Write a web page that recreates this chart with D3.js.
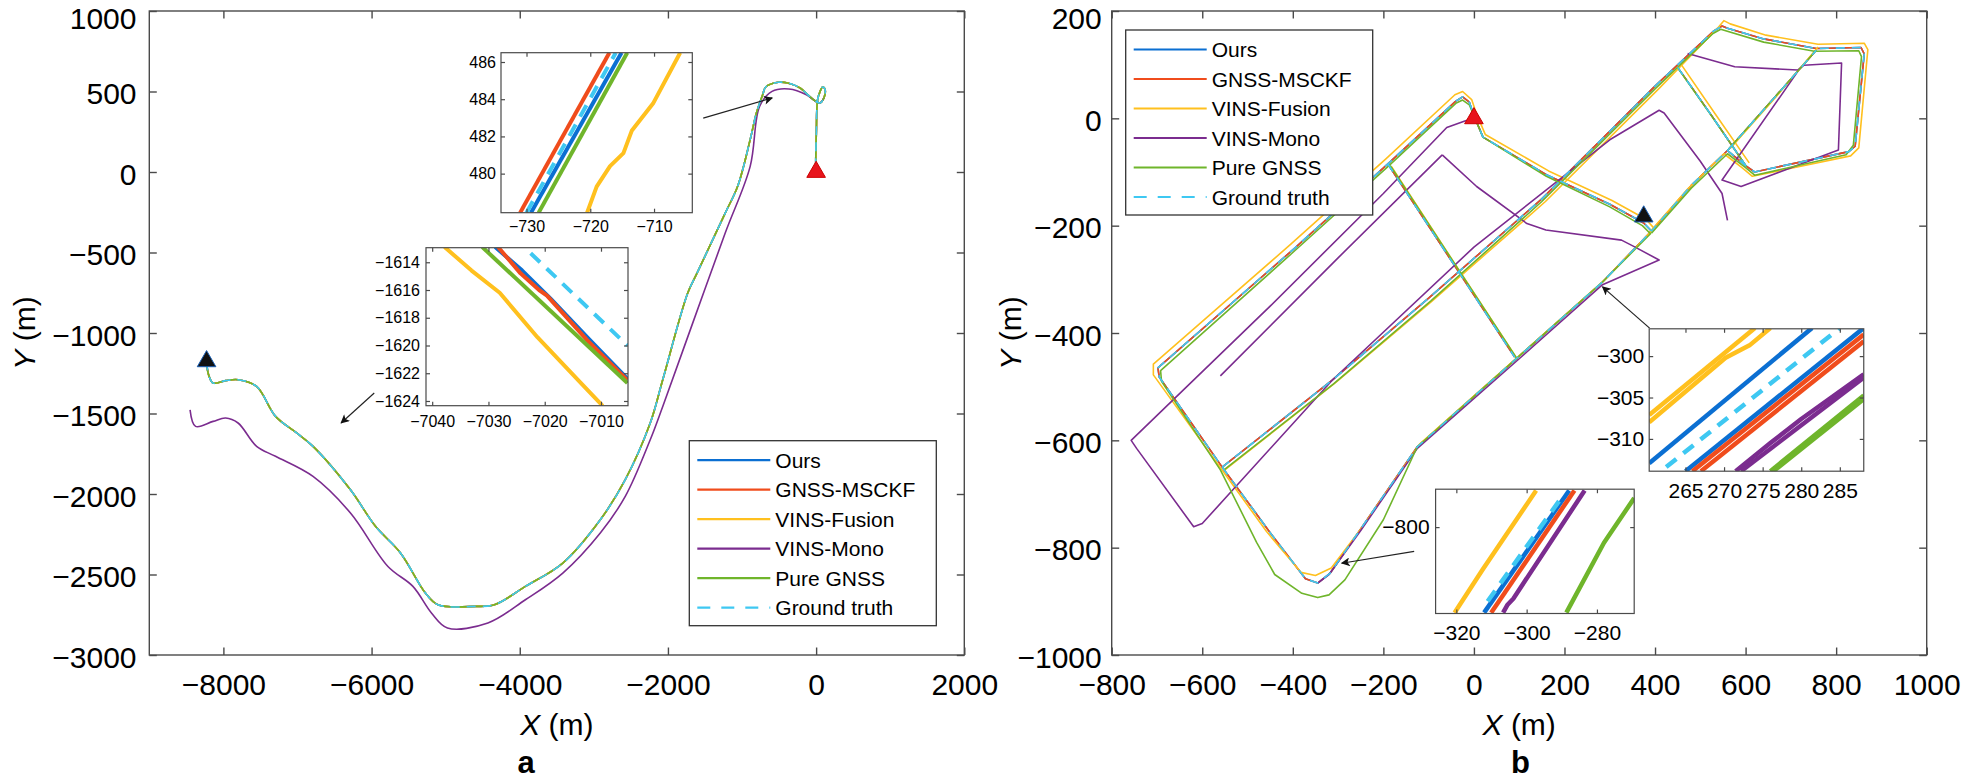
<!DOCTYPE html>
<html>
<head>
<meta charset="utf-8">
<script src="https://cdn.jsdelivr.net/npm/d3@7"></script>
<style>
body { margin: 0; background: #fff; }
svg { display: block; font-family: Arial, "Liberation Sans", Helvetica, sans-serif; }
</style>
</head>
<body>
<svg id="fig" width="1965" height="780"></svg>
<script>
// ---------------- series ----------------
const NAMES = ["Ours", "GNSS-MSCKF", "VINS-Fusion", "VINS-Mono", "Pure GNSS", "Ground truth"];
const COLORS = ["#0b6fd2", "#f04c1c", "#ffc01e", "#7b2c8f", "#6fb52b", "#3ec8f2"];

// ---------------- panel a (main) ----------------
const A_X_DOMAIN = [-9000, 2000];
const A_Y_DOMAIN = [-3000, 1000];
const A_X_TICKS = [-8000, -6000, -4000, -2000, 0, 2000];
const A_Y_TICKS = [1000, 500, 0, -500, -1000, -1500, -2000, -2500, -3000];
// Ours, GNSS-MSCKF, VINS-Fusion, Pure GNSS and Ground truth overlap at this scale
const A_TRACK = [
  [-8227, -1176], [-8200, -1259], [-8139, -1311], [-7970, -1296], [-7802, -1290],
  [-7552, -1332], [-7296, -1518], [-7020, -1618], [-6790, -1704], [-6285, -1974],
  [-5947, -2201], [-5610, -2366], [-5273, -2615], [-5104, -2688], [-4599, -2698],
  [-4343, -2688], [-3924, -2574], [-3419, -2429], [-2913, -2160], [-2576, -1911],
  [-2239, -1559], [-2070, -1290], [-1733, -752], [-1606, -627], [-1227, -255],
  [-1059, -89], [-890, 201], [-806, 366], [-720, 482], [-680, 528], [-512, 557],
  [-384, 553], [-216, 522], [-89, 470], [-5, 439], [54, 429], [105, 460], [121, 511],
  [88, 528], [54, 501], [20, 449], [3, 242], [-5, 56], [0, 0]
];
const A_MONO = [
  [-8450, -1477], [-8375, -1580], [-8139, -1549], [-7970, -1528], [-7802, -1559],
  [-7552, -1704], [-7296, -1766], [-6790, -1891], [-6285, -2118], [-5779, -2450],
  [-5442, -2574], [-5192, -2739], [-4976, -2832], [-4430, -2801], [-3924, -2657],
  [-3419, -2491], [-2913, -2242], [-2576, -2015], [-2239, -1663], [-2070, -1456],
  [-1649, -917], [-1227, -379], [-890, 35], [-763, 407], [-595, 501], [-367, 516],
  [-131, 480], [-5, 439], [54, 429], [105, 460]
];
const A_START = [-8227, -1176];
const A_END = [0, 0];
const A_ARROWS = [
  [[-1524, 335], [-593, 460]],
  [[-5964, -1373], [-6411, -1559]]
];

// inset a1
const A1_X_DOMAIN = [-734, -704];
const A1_Y_DOMAIN = [477.9, 486.5];
const A1_X_TICKS = [-730, -720, -710];
const A1_Y_TICKS = [480, 482, 484, 486];
const A1_LINES = [
  [[[-729.3, 477.9], [-715.1, 486.5]]],
  [[[-731.0, 477.9], [-717.0, 486.5]]],
  [[[-720.5, 477.9], [-719.0, 479.3], [-716.9, 480.4], [-714.8, 481.1], [-713.5, 482.3], [-710.1, 483.8], [-705.9, 486.5]]],
  [],
  [[[-728.1, 477.9], [-714.2, 486.5]]],
  [[[-730.0, 477.9], [-716.0, 486.5]]]
];

// inset a2
const A2_X_DOMAIN = [-7041.1, -7005.2];
const A2_Y_DOMAIN = [-1624.34, -1612.95];
const A2_X_TICKS = [-7040, -7030, -7020, -7010];
const A2_Y_TICKS = [-1614, -1616, -1618, -1620, -1622, -1624];
const A2_LINES = [
  [[[-7028.8, -1612.9], [-7024.0, -1614.6], [-7019.0, -1616.6], [-7012.0, -1619.6], [-7005.3, -1622.4]]],
  [[[-7028.3, -1612.9], [-7024.3, -1614.8], [-7021.0, -1616.0], [-7019.6, -1616.4], [-7012.5, -1619.6], [-7005.3, -1622.5]]],
  [[[-7037.8, -1612.9], [-7033.0, -1614.6], [-7028.0, -1616.2], [-7021.3, -1619.4], [-7013.6, -1622.7], [-7009.7, -1624.35]]],
  [],
  [[[-7031.1, -1612.9], [-7005.3, -1622.7]]],
  [[[-7022.5, -1613.35], [-7005.3, -1620.0]]]
];

// ---------------- panel b (main) ----------------
const B_X_DOMAIN = [-800, 1000];
const B_Y_DOMAIN = [-1000, 200];
const B_X_TICKS = [-800, -600, -400, -200, 0, 200, 400, 600, 800, 1000];
const B_Y_TICKS = [200, 0, -200, -400, -600, -800, -1000];
const B_TRUTH = [
  [[0, 5], [20, -35], [160, -105], [300, -160], [375, -195], [392, -210], [284, -305], [100, -443], [-125, -612], [-250, -765], [-318, -848], [-345, -866], [-372, -858], [-450, -772], [-556, -650], [-695, -482], [-698, -465], [-400, -245], [-190, -85], [-40, 32], [-25, 40], [-10, 30], [0, 5]],
  [[-556, -650], [-313, -488], [-100, -335], [150, -150], [400, 60], [530, 163], [548, 172], [560, 168], [640, 148], [756, 130], [855, 132], [862, 120], [842, -52], [828, -62], [620, -100], [600, -88], [560, -60], [480, -125], [392, -210]],
  [[560, -60], [660, 35], [756, 127]],
  [[-190, -85], [-50, -265], [90, -445]],
  [[450, 95], [525, 5], [600, -88]]
];
const B_FUSION = [
  [[5, 10], [25, -30], [165, -98], [305, -153], [380, -188], [398, -205], [290, -300], [106, -438], [-120, -607], [-245, -760], [-315, -838], [-350, -852], [-382, -846], [-458, -770], [-565, -645], [-708, -478], [-708, -458], [-405, -235], [-195, -76], [-42, 44], [-25, 50], [-5, 35], [5, 10]],
  [[-550, -655], [-305, -492], [-92, -340], [158, -155], [408, 55], [538, 168], [552, 182], [566, 176], [645, 155], [760, 138], [862, 140], [870, 128], [850, -55], [832, -70], [615, -108], [592, -92], [552, -66], [473, -131], [386, -214]],
  [[567, -55], [667, 40], [760, 133]],
  [[-182, -90], [-43, -270], [97, -450]],
  [[458, 100], [533, 8], [608, -83]]
];
const B_GNSS = [
  [[0, 5], [20, -35], [160, -108], [300, -165], [372, -200], [390, -215], [284, -305], [100, -443], [-125, -612], [-200, -748], [-285, -860], [-320, -888], [-345, -893], [-380, -885], [-440, -850], [-480, -790], [-560, -655], [-690, -490], [-692, -470], [-400, -250], [-190, -90], [-40, 28], [-25, 34], [-10, 25], [0, 5]],
  [[-552, -655], [-310, -495], [-95, -340], [150, -155], [400, 55], [528, 158], [545, 166], [640, 142], [752, 125], [850, 126], [856, 115], [838, -50], [822, -68], [620, -106], [600, -92], [560, -66], [480, -130], [392, -214]],
  [[560, -60], [660, 35], [756, 127]],
  [[-185, -88], [-45, -268], [95, -448]],
  [[452, 92], [527, 2], [602, -90]]
];
const B_MONO = [
  [[0, 0], [-20, -5], [-60, -17], [-200, -140], [-450, -350], [-757, -600], [-745, -615], [-619, -761], [-600, -755], [-313, -488], [0, -240], [300, -40], [409, 15], [420, 10], [500, -80], [548, -140], [560, -190]],
  [[-70, -68], [6, -127], [117, -196], [159, -208], [326, -227], [354, -239], [409, -264], [284, -310], [100, -448], [-125, -615], [-250, -768], [-320, -850], [-345, -866]],
  [[472, 121], [576, 96], [715, 90], [729, 99], [812, 103], [805, -59], [590, -127], [548, -115], [715, 87]],
  [[-70, -68], [-300, -260], [-560, -480]]
];
const B_START = [0, 0];
const B_END = [375, -183];
const B_ARROWS = [
  [[388, -391], [284, -314]],
  [[-132, -807], [-292, -829]]
];

// inset b1 (upper right)
const B1_X_DOMAIN = [260.3, 288.1];
const B1_Y_DOMAIN = [-313.9, -296.7];
const B1_X_TICKS = [265, 270, 275, 280, 285];
const B1_Y_TICKS = [-300, -305, -310];
const B1_LINES = [
  [[[260.3, -312.95], [281.4, -296.6]], [[265.0, -313.9], [288.1, -296.6]]],
  [[[265.9, -313.9], [288.1, -297.4]], [[267.0, -313.9], [288.1, -298.2]]],
  [[[260.3, -307.1], [274.0, -296.6]], [[260.3, -308.0], [270.2, -300.2], [273.3, -298.7], [276.0, -296.6]]],
  [[[271.5, -313.9], [276.0, -310.5], [280.0, -307.6], [288.1, -302.2]], [[272.2, -313.9], [288.1, -302.6]]],
  [[[276.0, -313.9], [288.1, -304.75]], [[276.4, -313.9], [288.1, -305.2]]],
  [[[262.5, -313.4], [285.0, -296.6]]]
];

// inset b2 (lower)
const B2_X_DOMAIN = [-325.9, -269.4];
const B2_Y_DOMAIN = [-820.5, -791];
const B2_X_TICKS = [-320, -300, -280];
const B2_Y_TICKS = [-800];
const B2_LINES = [
  [[[-312.1, -820.3], [-287.9, -791.3]]],
  [[[-310.1, -820.3], [-286.4, -791.3]]],
  [[[-320.5, -820.3], [-312.6, -810.2], [-297.3, -791.3]]],
  [[[-306.7, -820.3], [-305.5, -818.5], [-303.8, -817.0], [-283.5, -791.3]]],
  [[[-288.7, -820.3], [-278.0, -803.7], [-269.4, -793.1]]],
  [[[-311.1, -817.6], [-289.4, -792.2]]]
];

// ---------------- drawing ----------------
const svg = d3.select("#fig");
const AXIS_COLOR = "#4a4a4a";

const defs = svg.append("defs");
defs.append("marker")
  .attr("id", "arrowhead")
  .attr("viewBox", "0 0 10 10")
  .attr("refX", 9).attr("refY", 5)
  .attr("markerWidth", 13).attr("markerHeight", 9)
  .attr("markerUnits", "userSpaceOnUse")
  .attr("orient", "auto")
  .append("path")
  .attr("d", "M0,0 L10,5 L0,10 L2.5,5 Z")
  .attr("fill", "#111");

let clipCount = 0;

function makeAxes(g, box, xDomain, yDomain, xTicks, yTicks, opt) {
  const x = d3.scaleLinear().domain(xDomain).range([box.left, box.right]);
  const y = d3.scaleLinear().domain(yDomain).range([box.bottom, box.top]);

  if (opt.white) {
    g.append("rect")
      .attr("x", box.left).attr("y", box.top)
      .attr("width", box.right - box.left).attr("height", box.bottom - box.top)
      .attr("fill", "#fff");
  }

  const id = "clip" + (clipCount++);
  defs.append("clipPath").attr("id", id)
    .append("rect")
    .attr("x", box.left).attr("y", box.top)
    .attr("width", box.right - box.left).attr("height", box.bottom - box.top);

  const plot = g.append("g").attr("clip-path", `url(#${id})`);
  const axes = g.append("g").attr("class", "axes");

  const fmt = d3.format("d");
  const tl = opt.tickLen;

  axes.append("g")
    .attr("transform", `translate(0,${box.bottom})`)
    .call(d3.axisBottom(x).tickValues(xTicks).tickSize(-tl).tickSizeOuter(0)
      .tickPadding(opt.xPad).tickFormat(fmt));
  axes.append("g")
    .attr("transform", `translate(0,${box.top})`)
    .call(d3.axisTop(x).tickValues(xTicks).tickSize(-tl).tickSizeOuter(0).tickFormat(""));
  const yAxis = axes.append("g")
    .attr("transform", `translate(${box.left},0)`)
    .call(d3.axisLeft(y).tickValues(yTicks).tickSize(-tl).tickSizeOuter(0)
      .tickPadding(opt.yPad).tickFormat(fmt));
  axes.append("g")
    .attr("transform", `translate(${box.right},0)`)
    .call(d3.axisRight(y).tickValues(yTicks).tickSize(-tl).tickSizeOuter(0).tickFormat(""));

  axes.selectAll(".domain").remove();
  axes.selectAll(".tick line").attr("stroke", AXIS_COLOR).attr("stroke-width", opt.stroke);
  axes.selectAll(".tick text")
    .attr("fill", "#000")
    .style("font-size", opt.fontSize + "px")
    .style("font-family", "Arial, 'Liberation Sans', sans-serif");
  if (opt.yShift) {
    // labels sit a little below their ticks; the topmost one is pushed further down
    const top = d3.max(yDomain);
    yAxis.selectAll(".tick text")
      .attr("dy", d => (opt.fontSize * 0.32 + opt.yShift + (d === top ? 5 : 0)) + "px");
  }

  axes.append("rect")
    .attr("x", box.left).attr("y", box.top)
    .attr("width", box.right - box.left).attr("height", box.bottom - box.top)
    .attr("fill", "none").attr("stroke", AXIS_COLOR).attr("stroke-width", opt.stroke);

  return { x, y, plot, axes };
}

function drawLines(ax, lines, width, curve) {
  const line = d3.line().x(d => ax.x(d[0])).y(d => ax.y(d[1])).curve(curve || d3.curveLinear);
  lines.forEach((segs, i) => {
    segs.forEach(seg => {
      ax.plot.append("path")
        .attr("d", line(seg))
        .attr("fill", "none")
        .attr("stroke", COLORS[i])
        .attr("stroke-width", width)
        .attr("stroke-linejoin", "round")
        .attr("stroke-dasharray", i === 5 ? (width > 3 ? "13,9" : "9,7") : null);
    });
  });
}

function drawMarker(g, ax, p, fill, edge) {
  g.append("path")
    .attr("d", d3.symbol().type(d3.symbolTriangle).size(150)())
    .attr("transform", `translate(${ax.x(p[0])},${ax.y(p[1])})`)
    .attr("fill", fill)
    .attr("stroke", edge)
    .attr("stroke-width", 1);
}

function drawArrows(g, ax, arrows) {
  arrows.forEach(a => {
    g.append("line")
      .attr("x1", ax.x(a[0][0])).attr("y1", ax.y(a[0][1]))
      .attr("x2", ax.x(a[1][0])).attr("y2", ax.y(a[1][1]))
      .attr("stroke", "#222").attr("stroke-width", 1.2)
      .attr("marker-end", "url(#arrowhead)");
  });
}

function drawLegend(g, x0, y0) {
  const w = 247, h = 185, rowH = 29.5;
  g.append("rect")
    .attr("x", x0).attr("y", y0).attr("width", w).attr("height", h)
    .attr("fill", "#fff").attr("stroke", "#333").attr("stroke-width", 1.3);
  NAMES.forEach((name, i) => {
    const yy = y0 + 19.5 + i * rowH;
    g.append("line")
      .attr("x1", x0 + 8).attr("x2", x0 + 81)
      .attr("y1", yy).attr("y2", yy)
      .attr("stroke", COLORS[i]).attr("stroke-width", 2.2)
      .attr("stroke-dasharray", i === 5 ? "13,11" : null);
    g.append("text")
      .attr("x", x0 + 86).attr("y", yy)
      .attr("dy", "0.36em")
      .style("font-size", "21px")
      .text(name);
  });
}

function axisTitles(g, box, yx, letterX) {
  const cx = (box.left + box.right) / 2;
  const xt = g.append("text")
    .attr("x", cx).attr("y", 735)
    .attr("text-anchor", "middle")
    .style("font-size", "30px");
  xt.append("tspan").style("font-style", "italic").text("X");
  xt.append("tspan").text(" (m)");

  const yt = g.append("text")
    .attr("transform", `translate(${yx},${(box.top + box.bottom) / 2}) rotate(-90)`)
    .attr("text-anchor", "middle")
    .style("font-size", "30px");
  yt.append("tspan").style("font-style", "italic").text("Y");
  yt.append("tspan").text(" (m)");

  g.append("text")
    .attr("x", letterX).attr("y", 773)
    .attr("text-anchor", "middle")
    .style("font-size", "31px")
    .style("font-weight", "bold")
    .text(g.attr("data-letter"));
}

const mainOpt = { tickLen: 7.5, xPad: 18.5, yPad: 12.8, fontSize: 30, stroke: 1.4, yShift: 2.5 };

// ---- panel a ----
const gA = svg.append("g").attr("data-letter", "a");
const boxA = { left: 149.3, right: 964.3, top: 11, bottom: 655 };
const axA = makeAxes(gA, boxA, A_X_DOMAIN, A_Y_DOMAIN, A_X_TICKS, A_Y_TICKS, mainOpt);
const smooth = d3.curveCatmullRom.alpha(0.5);
drawLines(axA, [[A_TRACK], [A_TRACK], [A_TRACK], [A_MONO], [A_TRACK], [A_TRACK]], 1.6, smooth);
drawMarker(gA, axA, A_END, "#e8141c", "#c00");
drawMarker(gA, axA, A_START, "#111", "#1a5fb4");
drawArrows(gA, axA, A_ARROWS);

const insetSmallOpt = { tickLen: 4, xPad: 8.4, yPad: 5, fontSize: 16, stroke: 1.2, white: true };
const axA1 = makeAxes(gA.append("g"), { left: 501, right: 692.3, top: 52.7, bottom: 212.7 },
  A1_X_DOMAIN, A1_Y_DOMAIN, A1_X_TICKS, A1_Y_TICKS, insetSmallOpt);
drawLines(axA1, A1_LINES, 4);
const axA2 = makeAxes(gA.append("g"), { left: 426, right: 628, top: 247.7, bottom: 405.7 },
  A2_X_DOMAIN, A2_Y_DOMAIN, A2_X_TICKS, A2_Y_TICKS, Object.assign({}, insetSmallOpt, { xPad: 9.6, yPad: 6 }));
drawLines(axA2, A2_LINES, 4);
drawLegend(gA, 689.3, 440.7);
axisTitles(gA, boxA, 35, 526);

// ---- panel b ----
const gB = svg.append("g").attr("data-letter", "b");
const boxB = { left: 1111.7, right: 1926.7, top: 11, bottom: 655 };
const axB = makeAxes(gB, boxB, B_X_DOMAIN, B_Y_DOMAIN, B_X_TICKS, B_Y_TICKS, Object.assign({}, mainOpt, { yPad: 10 }));
drawLines(axB, [B_TRUTH, B_TRUTH, B_FUSION, B_MONO, B_GNSS, B_TRUTH], 1.6);
drawMarker(gB, axB, B_START, "#e8141c", "#c00");
drawMarker(gB, axB, B_END, "#111", "#1a5fb4");
drawArrows(gB, axB, B_ARROWS);

const insetBigOpt = { tickLen: 4, xPad: 12, yPad: 5, fontSize: 21, stroke: 1.2, white: true };
const axB1 = makeAxes(gB.append("g"), { left: 1649.2, right: 1863.75, top: 328.8, bottom: 471.2 },
  B1_X_DOMAIN, B1_Y_DOMAIN, B1_X_TICKS, B1_Y_TICKS, insetBigOpt);
drawLines(axB1, B1_LINES, 4.5);
const axB2 = makeAxes(gB.append("g"), { left: 1435.6, right: 1634.2, top: 489.2, bottom: 613.5 },
  B2_X_DOMAIN, B2_Y_DOMAIN, B2_X_TICKS, B2_Y_TICKS, Object.assign({}, insetBigOpt, { xPad: 11.6, yPad: 6 }));
drawLines(axB2, B2_LINES, 4.5);
drawLegend(gB, 1125.7, 30);
axisTitles(gB, boxB, 1021, 1520.5);
</script>
</body>
</html>
